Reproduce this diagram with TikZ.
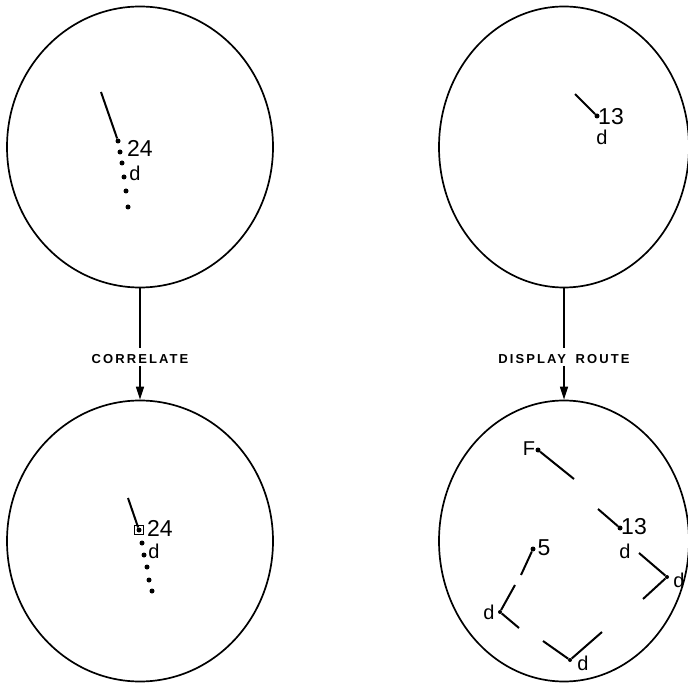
\documentclass[tikz,border=0pt]{standalone}
\usepackage{fontspec}
\setmainfont{Liberation Sans}
\newfontfamily\capsfont[LetterSpace=16]{Liberation Sans}
\usetikzlibrary{arrows.meta,calc,shapes.geometric}

\begin{document}
\begin{tikzpicture}[
      x=1pt, y=-1pt,
      >={Triangle[length=13pt,width=8pt]},
      radar/.style={ellipse, draw=black, line width=1.7pt, minimum width=266pt, minimum height=281pt, inner sep=0pt},
      link/.style={line width=1.4pt},
      trace/.style={line width=2pt},
      blip/.style={circle, fill=black, inner sep=0pt, minimum size=5pt},
      readout/.style={inner sep=0pt, font=\fontsize{23}{23}\selectfont},
      letter/.style={inner sep=0pt, font=\fontsize{20}{20}\selectfont},
      caption/.style={inner sep=0pt, font=\capsfont\bfseries\fontsize{13}{13}\selectfont},
]
\useasboundingbox (0,0) rectangle (688,684);

% correlate: before
\node[radar] (scope_a) at (140,147) {};
\coordinate (lead_a) at (101,92);
\node[blip] (hit_a) at (118,141) {};
\draw[trace] (lead_a) -- (hit_a);
\foreach \px/\py [count=\i] in {120/152,122/163,124/177,126/191,128/207}
    \node[blip] (trail_a\i) at (\px,\py) {};
\node[readout] (tag_a) at (140,148) {24};
\node[letter] (type_a) at (135,173) {d};

% correlate: after
\node[radar] (scope_b) at (140,541) {};
\coordinate (lead_b) at (128,498);
\node[blip] (hit_b) at (139,530) {};
\node[draw, line width=1.4pt, minimum size=9pt, inner sep=0pt] (box_b) at (hit_b) {};
\draw[trace] (lead_b) -- (hit_b);
\foreach \px/\py [count=\i] in {142/543,144/555,147/567,149/580,152/591}
    \node[blip] (trail_b\i) at (\px,\py) {};
\node[readout] (tag_b) at (160,528) {24};
\node[letter] (type_b) at (154,551) {d};

\node[caption] (corr) at (140,359) {CORRELATE};
\draw[link] (scope_a.south) -- ([yshift=6pt]corr.north);
\draw[link,->] ([yshift=-2pt]corr.south) -- (scope_b.north);

% display route: before
\node[radar, minimum width=250pt] (route_a) at (564,147) {};
\coordinate (lead_c) at (575,94);
\node[blip] (hit_c) at (597,116) {};
\draw[trace] (lead_c) -- (hit_c);
\node[readout] (tag_c) at (611,117) {13};
\node[letter] (type_c) at (602,137) {d};

% display route: after
\node[radar, minimum width=250pt] (route_b) at (564,541) {};
\node[blip] (fix_f) at (538,450) {};
\node[blip] (fix_13) at (620,528) {};
\node[blip, minimum size=4pt] (turn_r) at (667,577) {};
\node[blip, minimum size=4pt] (turn_b) at (570,660) {};
\node[blip, minimum size=4pt] (turn_l) at (500,612) {};
\node[blip] (fix_5) at (533,549) {};

\coordinate (leg_f) at (574,479);
\coordinate (leg_13) at (598,509);
\coordinate (leg_r1) at (639,553);
\coordinate (leg_r2) at (643,599);
\coordinate (leg_b1) at (602,632);
\coordinate (leg_b2) at (543,641);
\coordinate (leg_l1) at (519,628);
\coordinate (leg_l2) at (515,585);
\coordinate (leg_5) at (521,575);

\draw[trace] (fix_f) -- (leg_f);
\draw[trace] (fix_13) -- (leg_13);
\draw[trace] (turn_r) -- (leg_r1);
\draw[trace] (turn_r) -- (leg_r2);
\draw[trace] (turn_b) -- (leg_b1);
\draw[trace] (turn_b) -- (leg_b2);
\draw[trace] (turn_l) -- (leg_l1);
\draw[trace] (turn_l) -- (leg_l2);
\draw[trace] (fix_5) -- (leg_5);

\node[letter] (tag_f) at (529,449) {F};
\node[readout] (tag_13) at (634,527) {13};
\node[letter] (type_13) at (625,551) {d};
\node[letter] (type_r) at (679,580) {d};
\node[readout] (tag_5) at (544,548) {5};
\node[letter] (type_l) at (489,612) {d};
\node[letter] (type_bt) at (583,663) {d};

\node[caption] (route) at (564,359) {DISPLAY\hspace{4pt} ROUTE};
\draw[link] (route_a.south) -- ([yshift=6pt]route.north);
\draw[link,->] ([yshift=-2pt]route.south) -- (route_b.north);

\end{tikzpicture}
\end{document}
